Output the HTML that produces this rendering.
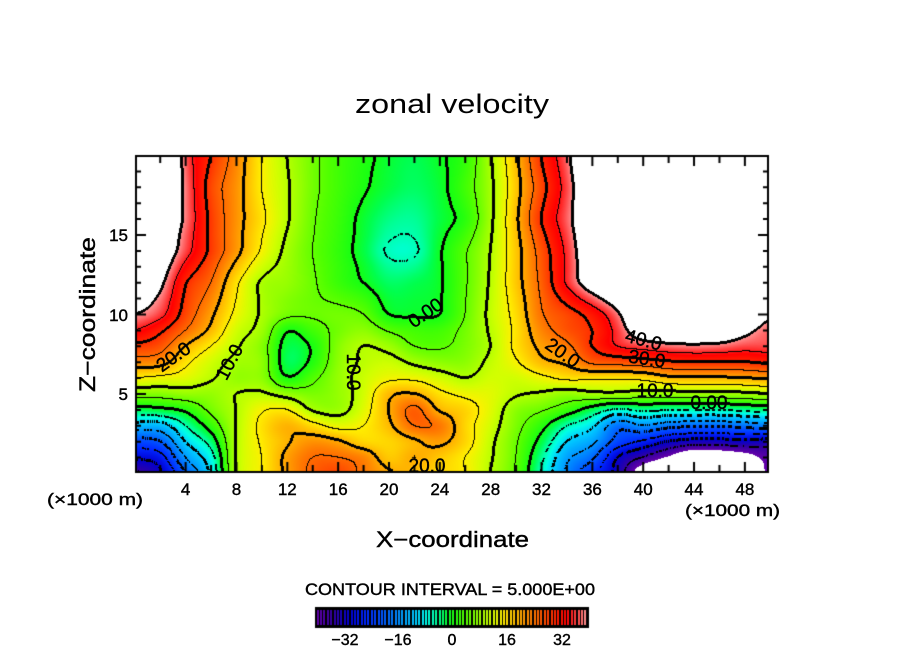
<!DOCTYPE html>
<html><head><meta charset="utf-8">
<style>
html,body{margin:0;padding:0;background:#fff;}
#wrap{position:relative;width:904px;height:654px;overflow:hidden;background:#fff;}
canvas,svg{position:absolute;left:0;top:0;}
text{font-family:"Liberation Sans",sans-serif;fill:#000;}
.b{stroke:#000;stroke-width:0.4;}
</style></head><body>
<div id="wrap">
<canvas id="c" width="904" height="654"></canvas>
<svg width="904" height="654" viewBox="0 0 904 654">
<text x="452" y="113" font-size="27" text-anchor="middle" textLength="194" lengthAdjust="spacingAndGlyphs">zonal velocity</text>
<text class="b" x="452.5" y="547" font-size="22" text-anchor="middle" textLength="153" lengthAdjust="spacingAndGlyphs">X−coordinate</text>
<text class="b" transform="translate(95,314.5) rotate(-90)" x="0" y="0" font-size="22" text-anchor="middle" textLength="155" lengthAdjust="spacingAndGlyphs">Z−coordinate</text>
<g font-size="17" text-anchor="middle" class="b">
<text x="185.6" y="495">4</text>
<text x="236.5" y="495">8</text>
<text x="287.3" y="495">12</text>
<text x="338.2" y="495">16</text>
<text x="389" y="495">20</text>
<text x="439.8" y="495">24</text>
<text x="490.7" y="495">28</text>
<text x="541.5" y="495">32</text>
<text x="592.4" y="495">36</text>
<text x="643.2" y="495">40</text>
<text x="694" y="495">44</text>
<text x="744.9" y="495">48</text>
</g>
<g font-size="17" text-anchor="end" class="b">
<text x="128" y="241">15</text>
<text x="128" y="321">10</text>
<text x="128" y="400">5</text>
</g>
<text class="b" x="47" y="505" font-size="17" textLength="96" lengthAdjust="spacingAndGlyphs">(×1000 m)</text>
<text class="b" x="685" y="516" font-size="17" textLength="95" lengthAdjust="spacingAndGlyphs">(×1000 m)</text>
<text class="b" x="450" y="595" font-size="17" text-anchor="middle" textLength="290" lengthAdjust="spacingAndGlyphs">CONTOUR INTERVAL = 5.000E+00</text>
<g font-size="16" text-anchor="middle" class="b">
<text x="345" y="645">−32</text>
<text x="398" y="645">−16</text>
<text x="452" y="645">0</text>
<text x="507" y="645">16</text>
<text x="562" y="645">32</text>
</g>
<g font-size="19" text-anchor="middle" class="b">
<text transform="translate(177,362) rotate(-35)">20.0</text>
<text transform="translate(235,365) rotate(-62)">10.0</text>
<text transform="translate(429,318) rotate(-35)">0.00</text>
<text transform="translate(347,372) rotate(90)">10.0</text>
<text transform="translate(559,358) rotate(35)">20.0</text>
<text transform="translate(642,346) rotate(15)">40.0</text>
<text transform="translate(646,365) rotate(8)">30.0</text>
<text x="655" y="397">10.0</text>
<text x="709" y="409">0.00</text>
<text x="427" y="472">20.0</text>
</g>
</svg>
</div>
<script>
(function(){
const cols=[
[-36,-29,-22,-12,-2,7,15,23,29,35,40,46,52,55,55,58],
[-31,-27,-20,-12,-1,7,14,22,27,31,36.5,41.5,46,48,50,55],
[-20,-15,-10,-5,1,8,13,16,20,25,28,30.5,37,39,39,38],
[-9,-7,-3,2,6,8,10.5,12,15,19,21,25,29,29,28,30],
[10,10,10,10,10,10,8,9,10.5,12,14,16,21.5,22,22,23],
[15,15,15.5,16,14.5,10.5,7.5,7.5,7,8.5,9.5,9.5,14.5,16,15,15],
[21,21,19.5,19.5,15,8,0.5,-2,-1.5,0.5,6,8,9,10.5,10.5,10],
[26,25,22,16.5,9.5,6.5,4,1,0.5,3,5.5,5.5,5,5.5,6,6],
[28,25,20.5,13.5,8.5,8,8,7.5,7,6,6,2.5,2,2.5,3,3],
[24,23,17,15,13,12,11.5,10.5,10,7.5,5,0,-1.5,-1,0.5,1],
[20.5,18,17,19,20,19,14,11.5,8.5,4.5,0,-2.5,-5.5,-3.5,-1.5,-1],
[19,20,19.5,25,26,20,14,9,5,3,-0.5,-2,-5.5,-4,-2.5,-2],
[17,18,21,24,19.5,16,12,7.5,4.5,3,0,-0.5,-0.5,-1.5,-1,-0.5],
[15,15,17,17,17,14,10,7.5,6.5,6,5,4.5,4.5,1.5,3,2],
[10,10.5,11,12,13,13,12,11,10,10.5,11,10.5,10,9,9,9.5],
[4.5,5,5.5,6.5,7.5,10.5,12,14.5,16,16,16.5,18,18,19,18,19],
[-5.5,-4,-1.5,1.5,5.5,9.5,14,19,21,23,24.5,26,27,30,28,30],
[-16,-14,-10,-5,2.5,8,16,21,24,27,28,35.5,36,38,37,38.5],
[-24,-19,-14,-9,-2,9,16,26,30,30,32,44,46,47,48,50],
[-32,-30,-22,-18,-6,9,16,27,35,36.5,39,50,52,52,55,55],
[-45,-35.5,-26,-15.5,-4,8,16.5,28,37,45,50,55,55,55,55,55],
[-52,-41,-30,-18,-5,8,19,29.5,38.5,48,55,55,55,55,55,55],
[-55,-47,-32,-19,-5,8.5,19.5,30,39,48,55,55,55,55,55,55],
[-54,-46,-32,-19,-5,8.5,19.5,30,38.5,47,53,55,55,55,55,55],
[-46,-43,-31,-18,-4,9,20,30,37,42,48,55,55,55,55,55],
[-39,-38,-32,-17,-3,10,21,31,37,38,41,50,55,55,55,55]
];
const zs=[0,1,2,3,4,5,6,7,8,9,10,12,14,16,18,20];
function lin(col,k){for(let j=0;j<zs.length-1;j++){if(k<=zs[j+1]){const t=(k-zs[j])/(zs[j+1]-zs[j]);return col[j]*(1-t)+col[j+1]*t;}}return col[col.length-1];}
const U=cols.map(col=>{const r=[];for(let k=0;k<=20;k++)r.push(lin(col,k));return r;});
function g(i,k){if(i<0)i=0;if(i>25)i=25;if(k<0)k=0;if(k>20)k=20;return U[i][k];}
function cr(a,b,c,d,t){return b+0.5*t*(c-a+t*(2*a-5*b+4*c-d+t*(3*(b-c)+d-a)));}
function f(x,z){const gx=x/2;let i=Math.floor(gx);if(i>24)i=24;if(i<0)i=0;const tx=gx-i;let k=Math.floor(z);if(k>19)k=19;if(k<0)k=0;const tz=z-k;const r=[];for(let m=-1;m<=2;m++){r.push(cr(g(i-1,k+m),g(i,k+m),g(i+1,k+m),g(i+2,k+m),tx));}return cr(r[0],r[1],r[2],r[3],tz);}
const S=[[-40,100,0,170],[-35,50,0,160],[-30,0,0,210],[-25,0,40,255],[-20,0,90,255],[-15,0,150,255],[-10,0,210,255],[-7,0,255,230],[-4,0,255,150],[-2,0,255,80],[0,20,255,20],[4,80,255,0],[8,150,255,0],[12,210,255,0],[15,255,240,0],[18,255,200,0],[21,255,160,0],[24,255,120,0],[28,255,70,0],[31,255,30,0],[34,255,0,0],[37,255,70,70],[40,255,150,150]];
function cm(v){if(v<=S[0][0])return S[0].slice(1);for(let n=1;n<S.length;n++){if(v<=S[n][0]){const a=S[n-1],b=S[n];const t=(v-a[0])/(b[0]-a[0]);return [a[1]+(b[1]-a[1])*t,a[2]+(b[2]-a[2])*t,a[3]+(b[3]-a[3])*t];}}return S[S.length-1].slice(1);}
const cv=document.getElementById('c');const ctx=cv.getContext('2d');
ctx.fillStyle='#fff';ctx.fillRect(0,0,904,654);
const X0=136,Y0=157,W=632,H=315;
const V=new Float32Array(W*H);
for(let j=0;j<H;j++){const z=(473.5-(Y0+j+0.5))/15.9;for(let i=0;i<W;i++){const x=(X0+i+0.5-134.8)/12.71;V[j*W+i]=f(x,z);}}
const im=ctx.createImageData(W,H);const d=im.data;
for(let p=0;p<W*H;p++){const v=V[p];let c;if(v>40||v<-40)c=[255,255,255];else c=cm(v);d[4*p]=c[0];d[4*p+1]=c[1];d[4*p+2]=c[2];d[4*p+3]=255;}
const M=new Uint8Array(W*H);
function chk(p,q,i,j,dir){const bp=Math.floor(V[p]/5),bq=Math.floor(V[q]/5);if(bp===bq)return;const L=5*Math.max(bp,bq);if(L<-35||L>40)return;const thick=(L%10===0);if(L<0){const il=Math.max(i-1,0),ir=Math.min(i+1,W-1),ju=Math.max(j-1,0),jd=Math.min(j+1,H-1);const gx=V[j*W+ir]-V[j*W+il],gy=V[jd*W+i]-V[ju*W+i];const n=Math.hypot(gx,gy)||1;const s=(i*(-gy)+j*gx)/n;const m=((s%9)+9)%9;if(m>5.5)return;}
M[p]=1;if(thick||L<0)M[q]=1;if(thick){const r=dir===0?(i>0?p-1:p):(j>0?p-W:p);M[r]=1;}}
for(let j=0;j<H;j++){for(let i=0;i<W;i++){const p=j*W+i;if(i<W-1)chk(p,p+1,i,j,0);if(j<H-1)chk(p,p+W,i,j,1);}}
for(let p=0;p<W*H;p++){if(M[p]){d[4*p]=0;d[4*p+1]=0;d[4*p+2]=0;}}
ctx.putImageData(im,X0,Y0);
ctx.strokeStyle='#000';ctx.lineWidth=2;ctx.strokeRect(136,156,632,316);
ctx.beginPath();
for(let x=2;x<=48;x+=2){const px=134.8+12.71*x;const L=(x%4===0)?10:7;ctx.moveTo(px,472);ctx.lineTo(px,472-L);ctx.moveTo(px,156);ctx.lineTo(px,156+L);}
for(let z=1;z<=19;z++){const py=473.5-15.9*z;const L=(z%5===0)?10:5;ctx.moveTo(136,py);ctx.lineTo(136+L,py);ctx.moveTo(768,py);ctx.lineTo(768-L,py);}
ctx.stroke();
ctx.fillStyle='#000';ctx.fillRect(315,607,274,21);
for(let n=0;n<80;n++){const c=cm(-40+n+0.5);ctx.fillStyle='rgb('+Math.round(c[0])+','+Math.round(c[1])+','+Math.round(c[2])+')';const x=Math.round(316.6+n*3.39);ctx.fillRect(x,610,2,15);}
})();
</script>
</body></html>
